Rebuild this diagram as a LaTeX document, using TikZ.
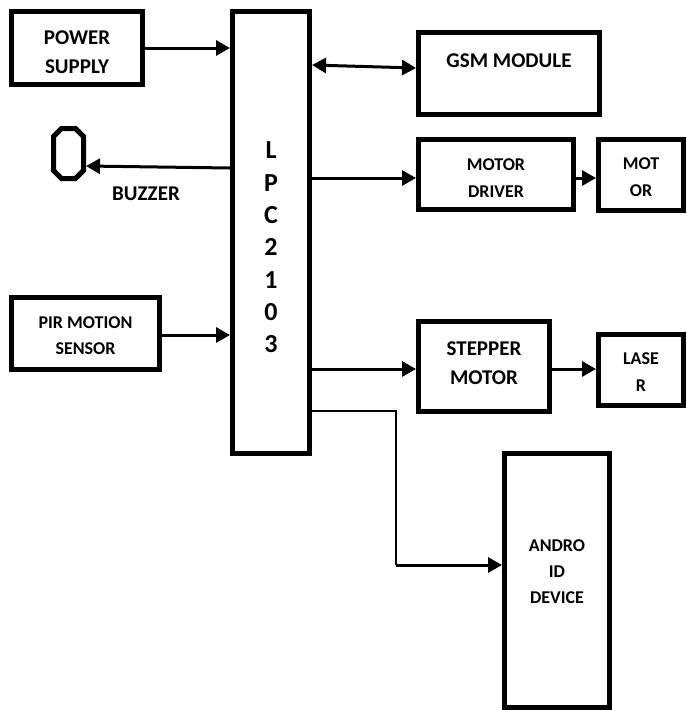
\documentclass[tikz,border=0pt]{standalone}
\usepackage{fontspec}
\setmainfont{Carlito}
\usetikzlibrary{arrows.meta}

\begin{document}
\begin{tikzpicture}[
    x=1pt, y=-1pt,
    kotak/.style={draw, line width=5pt, align=center, inner sep=0pt, text depth=0pt, font=\fontsize{21}{29}\selectfont\bfseries},
    kecil/.style={font=\fontsize{18}{27}\selectfont\bfseries},
    panah/.style={-{Triangle[length=14pt, width=15pt]}, line width=3pt},
    kawat/.style={line width=1.6pt}
  ]
    \useasboundingbox (0,0) rectangle (686,710);
    \node[kotak, minimum width=131pt, minimum height=73pt, text height=51.5pt] (power) at (77,48) {POWER\\SUPPLY};
    \node[kotak, minimum width=77pt, minimum height=442pt, font=\fontsize{26}{32.3}\selectfont\bfseries, text height=240.5pt] (lpc) at (271,232.5) {L\\P\\C\\2\\1\\0\\3};
    \node[kotak, minimum width=181pt, minimum height=82pt, text height=0pt, text depth=11.5pt] (gsm) at (509,73.5) {GSM MODULE};
    \node[kotak, kecil, minimum width=155pt, minimum height=70pt, text height=45.6pt] (driver) at (496,174.5) {MOTOR\\DRIVER};
    \node[kotak, kecil, minimum width=85pt, minimum height=71pt, text height=43.6pt] (motor) at (641,175) {MOT\\OR};
    \node[kotak, minimum width=148pt, minimum height=72pt, font=\fontsize{18}{26}\selectfont\bfseries, text height=42.6pt] (pir) at (85.5,333.5) {PIR MOTION\\SENSOR};
    \node[kotak, minimum width=131pt, minimum height=90pt, text height=36.5pt] (stepper) at (484,366.5) {STEPPER\\MOTOR};
    \node[kotak, kecil, minimum width=85pt, minimum height=71pt, text height=43.6pt] (laser) at (641,370) {LASE\\R};
    \node[kotak, minimum width=105pt, minimum height=254pt, font=\fontsize{18}{26}\selectfont\bfseries, text height=46.6pt] (android) at (557,580.5) {ANDRO\\ID\\DEVICE};
    \node[font=\fontsize{21}{25}\selectfont\bfseries, inner sep=0pt] (buzzertext) at (146,194) {BUZZER};
    \draw[line width=5pt] (61.5,128.5) -- (75.5,128.5) -- (83.5,136.5) -- (83.5,170.5) -- (75.5,178.5) -- (61.5,178.5) -- (53.5,170.5) -- (53.5,136.5) -- cycle;
    \coordinate (buzzer) at (86,166);
    \draw[panah] (power.east) -- (power.east -| lpc.west);
    \draw[panah] (lpc.west |- 0,168) -- (buzzer);
    \draw[panah] (pir.east |- 0,335) -- (lpc.west |- 0,335);
    \draw[panah, {Triangle[length=14pt, width=15pt]}-{Triangle[length=14pt, width=15pt]}] (lpc.east |- 0,65) -- (gsm.west |- 0,68);
    \draw[panah] (lpc.east |- 0,178) -- (driver.west |- 0,178);
    \draw[panah] (driver.east |- 0,178) -- (motor.west |- 0,178);
    \draw[panah] (lpc.east |- 0,369) -- (stepper.west |- 0,369);
    \draw[panah] (stepper.east |- 0,369) -- (laser.west |- 0,369);
    \coordinate (belok) at (396,565);
    \draw[kawat] (lpc.east |- 0,411) -| (belok);
    \draw[panah] (belok) -- (android.west |- belok);
  \end{tikzpicture}
\end{document}
